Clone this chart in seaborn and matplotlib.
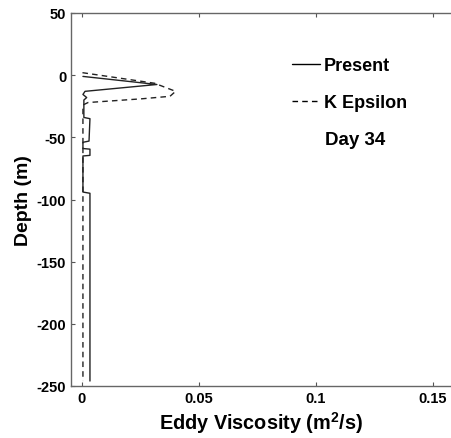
import matplotlib
matplotlib.use("Agg")
import matplotlib.pyplot as plt
import seaborn as sns

# Present model profile (eddy viscosity vs depth)
present_visc = [0.0004, 0.032, 0.0013, 0.0004, 0.002, 0.0008, 0.0008, 0.0034,
                0.0030, 0.0004, 0.0004, 0.0034, 0.0034, 0.0004, 0.0004, 0.0034, 0.0034]
present_depth = [-1, -7.5, -13, -15.5, -18, -20, -34, -35,
                 -53, -54, -59, -59.5, -64.5, -65, -94, -95, -246]

# K-epsilon profile
keps_visc = [0.0002, 0.031, 0.040, 0.0376, 0.0256, 0.0026, 0.0004, 0.0004]
keps_depth = [2, -6.5, -13, -17, -19, -22, -24, -246]

xticks = [0, 0.05, 0.1, 0.15]
xticklabels = ["0", "0.05", "0.1", "0.15"]
yticks = [50, 0, -50, -100, -150, -200, -250]

sns.set_style("white")
plt.rcParams['font.family'] = ['Liberation Sans', 'DejaVu Sans']
plt.rcParams['axes.unicode_minus'] = False
plt.rcParams['text.color'] = 'black'
plt.rcParams['mathtext.fontset'] = 'custom'
plt.rcParams['mathtext.bf'] = 'Liberation Sans:bold'

fig = plt.figure(figsize=(4.51, 4.39), dpi=100)
ax = fig.add_axes([71 / 451, 1 - 387 / 439, 380 / 451, 373 / 439])

sns.lineplot(x=present_visc, y=present_depth, sort=False, estimator=None,
             color="#222222", linewidth=1.0, ax=ax, label="Present")
sns.lineplot(x=keps_visc, y=keps_depth, sort=False, estimator=None,
             color="#222222", linewidth=1.0, ax=ax, label="K Epsilon")
ax.lines[1].set_dashes((4, 3))

ax.set_xlim(-0.0047, 0.1577)
ax.set_ylim(-250, 50)
ax.set_xticks(xticks)
ax.set_xticklabels(xticklabels)
ax.set_yticks(yticks)
ax.tick_params(direction="in", length=3, width=0.8, colors="#555555",
               labelcolor="black", labelsize=10.5, top=True, bottom=True, left=True)
for lbl in ax.get_xticklabels() + ax.get_yticklabels():
    lbl.set_fontweight("bold")

for side in ["left", "top", "bottom"]:
    ax.spines[side].set_color("#666666")
    ax.spines[side].set_linewidth(1.0)
ax.spines["right"].set_visible(False)

ax.set_xlabel("Eddy Viscosity (m$^\\mathbf{2}$/s)", fontsize=14.3, fontweight="bold",
              color="black", labelpad=3)
ax.set_ylabel("Depth (m)", fontsize=14, fontweight="bold", color="black", labelpad=3)

leg = ax.legend(loc="upper left", bbox_to_anchor=(0.54, 0.925), frameon=False,
                prop={"size": 13, "weight": "bold"}, handlelength=1.55,
                handletextpad=0.2, labelspacing=1.1)
for h in leg.get_lines():
    h.set_color("black")
for t in leg.get_texts():
    t.set_color("black")

ax.text(0.668, 0.662, "Day 34", transform=ax.transAxes, fontsize=13.5,
        fontweight="bold", color="black", va="center", ha="left")

fig.savefig("out.png", dpi=100)
